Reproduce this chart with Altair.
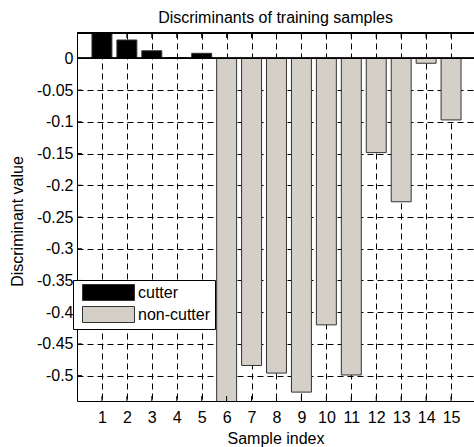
import altair as alt
import pandas as pd

# ---- data ----
samples = list(range(1, 16))
values = [0.046, 0.029, 0.012, 0.001, 0.008,
          -0.58, -0.484, -0.496, -0.526, -0.420,
          -0.499, -0.1485, -0.226, -0.0077, -0.097]
groups = ["cutter"] * 5 + ["non-cutter"] * 10
group_names = ["cutter", "non-cutter"]
group_colors = ["#000000", "#d4d0c8"]
y_ticks = [0, -0.05, -0.1, -0.15, -0.2, -0.25, -0.3, -0.35, -0.4, -0.45, -0.5]
x_ticks = samples
title_text = "Discriminants of training samples"
x_title = "Sample index"
y_title = "Discriminant value"

FONT = "Liberation Sans"
FS = 16
W, H = 397, 368
GRID_DASH = [6, 4]

xscale = alt.Scale(domain=[0, 15.92], nice=False, zero=False)
yscale = alt.Scale(domain=[-0.54, 0.04], nice=False, zero=False)

xaxis = alt.Axis(
    values=x_ticks, title=x_title, ticks=False, labelPadding=8,
    labelFont=FONT, labelFontSize=FS, labelColor="black",
    titleFont=FONT, titleFontSize=FS, titleFontWeight="normal", titleColor="black",
    titleBaseline="alphabetic", titleY=42,
    domainColor="black", domainWidth=1,
    grid=True, gridColor="black", gridDash=GRID_DASH, gridWidth=1, gridOpacity=1,
    labelFlush=False, labelOverlap=False)
yaxis = alt.Axis(
    values=y_ticks, format=".2~f", labelExpr="replace(datum.label, '\u2212', '-')",
    title=y_title, ticks=False, labelPadding=4,
    labelFont=FONT, labelFontSize=FS, labelColor="black",
    titleFont=FONT, titleFontSize=FS, titleFontWeight="normal", titleColor="black",
    titleBaseline="alphabetic", titleX=-55, titleY=188, titleAngle=-90,
    domainColor="black", domainWidth=1,
    grid=True, gridColor="black", gridDash=GRID_DASH, gridWidth=1, gridOpacity=1,
    labelFlush=False, labelOverlap=False)

df = pd.DataFrame({"sample": samples, "value": values, "group": groups})
xt = pd.DataFrame({"t": x_ticks})
yt = pd.DataFrame({"t": y_ticks})

bars = alt.Chart(df).transform_calculate(
    x0="datum.sample - 0.4", x1="datum.sample + 0.4"
).mark_bar(stroke="#333333", strokeWidth=1, clip=True).encode(
    x=alt.X("x0:Q", scale=xscale, axis=xaxis),
    x2="x1:Q",
    y=alt.Y("value:Q", scale=yscale, axis=yaxis),
    y2=alt.datum(0),
    color=alt.Color("group:N", scale=alt.Scale(domain=group_names, range=group_colors),
                    legend=alt.Legend(
                        title=None, orient="none", legendX=-4, legendY=247,
                        symbolType="M-1,-1H5.5V1H-1Z", symbolSize=256,
                        symbolOffset=5, labelOffset=39, rowPadding=1, padding=4,
                        fillColor="white", strokeColor="black",
                        labelFont=FONT, labelFontSize=FS, labelColor="black",
                        symbolStrokeColor="#333333", symbolStrokeWidth=1,
                        symbolOpacity=1, cornerRadius=0)),
)

baseline = alt.Chart(df).mark_rule(color="black", strokeWidth=1).encode(
    y=alt.Y(datum=0, scale=yscale, axis=yaxis)
)

top_border = alt.Chart(df).mark_rule(color="black", strokeWidth=1).encode(
    y=alt.value(0)
)

x_ticks_bottom = alt.Chart(xt).mark_rule(color="black", strokeWidth=1).encode(
    x=alt.X("t:Q", scale=xscale, axis=xaxis), y=alt.value(H), y2=alt.value(H - 5)
)
x_ticks_top = alt.Chart(xt).mark_rule(color="black", strokeWidth=1).encode(
    x=alt.X("t:Q", scale=xscale, axis=xaxis), y=alt.value(0), y2=alt.value(5)
)
y_ticks_left = alt.Chart(yt).mark_rule(color="black", strokeWidth=1).encode(
    y=alt.Y("t:Q", scale=yscale, axis=yaxis), x=alt.value(0), x2=alt.value(5)
)

chart = alt.layer(
    bars, baseline, top_border, x_ticks_bottom, x_ticks_top, y_ticks_left
).properties(
    width=W, height=H,
    title=alt.Title(title_text, font=FONT, fontSize=FS, fontWeight="normal",
                    color="black", anchor="middle", baseline="alphabetic",
                    offset=11, dy=17, frame="group"),
    autosize=alt.AutoSizeParams(type="none"),
    padding={"left": 77, "top": 33, "right": 0, "bottom": 46},
).configure_view(stroke=None).configure(background="white")

chart.save("out.html", embed_options={"renderer": "svg", "actions": False})
